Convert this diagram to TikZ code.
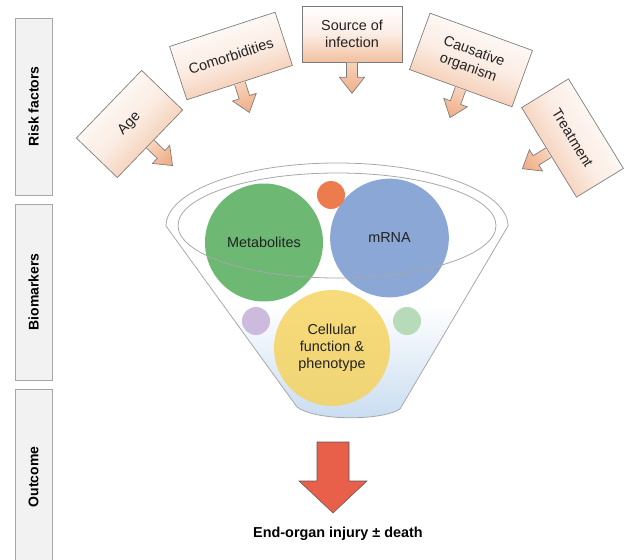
\documentclass[tikz,border=0pt]{standalone}
\usepackage{fontspec}
\setmainfont{Liberation Sans}
\definecolor{peachA}{HTML}{FFFFFF}
\definecolor{peachM}{HTML}{FBEDE4}
\definecolor{peachB}{HTML}{F2C0A0}
\definecolor{arrA}{HTML}{F7D2BA}
\definecolor{arrB}{HTML}{F0AF88}
\definecolor{boxline}{HTML}{7A7A7A}
\definecolor{bandfill}{HTML}{F2F2F2}
\definecolor{bandline}{HTML}{A6A6A6}
\definecolor{txt}{HTML}{222222}
\definecolor{cgreen}{HTML}{6DB873}
\definecolor{cblue}{HTML}{8BA7D5}
\definecolor{corange}{HTML}{EC7B4E}
\definecolor{cyellow}{HTML}{F6D35F}
\definecolor{cpurple}{HTML}{CDBBDD}
\definecolor{clgreen}{HTML}{B7DBB9}
\definecolor{funnelblue}{HTML}{C6DBF0}
\definecolor{funnelline}{HTML}{A8A8A8}
\definecolor{redarrow}{HTML}{E8604A}
\newcommand{\peacharrow}[2]{%
  \begin{scope}[shift={(#1)}, rotate=#2]
    \path[callarrow, shading angle=#2] (-5.5,0.4) -- (-5.5,15) -- (-12.5,15) -- (0,31) -- (12.5,15) -- (5.5,15) -- (5.5,0.4);
  \end{scope}}
\begin{document}
\begin{tikzpicture}[x=0.75pt, y=-0.75pt, font=\fontsize{10.8}{12.8}\selectfont,
  band/.style={draw=bandline, fill=bandfill, line width=0.6pt, inner sep=0pt, text=black,
    font=\fontsize{10.5}{12}\selectfont\bfseries},
  callout/.style={draw=boxline, line width=0.5pt, top color=peachA, bottom color=peachB,
    middle color=peachM, inner sep=0pt, align=center, text=txt},
  callarrow/.style={draw=boxline, line width=0.5pt, top color=arrA, bottom color=arrB},
  bubble/.style={circle, inner sep=0pt, align=center, text=txt},
  fline/.style={draw=funnelline, line width=0.6pt}]
\useasboundingbox (0,0) rectangle (625,560);

% side bands
\node[band, rotate=90, minimum width=132.75pt, minimum height=27.75pt] (rf) at (33.5,106.5) {Risk factors};
\node[band, rotate=90, minimum width=132pt, minimum height=27.75pt] (bm) at (33.5,292) {Biomarkers};
\node[band, rotate=90, minimum width=132pt, minimum height=27.75pt] (oc) at (33.5,477) {Outcome};

% risk factor callouts
\node[callout, minimum width=70.5pt, minimum height=42.75pt, rotate=46, shading angle=46] (age) at (129.5,124) {Age};
\node[callout, minimum width=83.25pt, minimum height=42pt, rotate=18, shading angle=18] (com) at (231,56) {Comorbidities};
\node[callout, minimum width=75pt, minimum height=42pt] (src) at (352,34) {Source of\\infection};
\node[callout, minimum width=81.75pt, minimum height=45pt, rotate=-20, shading angle=-20] (cau) at (471,60) {Causative\\organism};
\node[callout, minimum width=78.75pt, minimum height=41.25pt, rotate=-58.5, shading angle=-58.5] (trt) at (572.5,138) {Treatment};

\peacharrow{age.south}{46}
\peacharrow{com.south}{18}
\peacharrow{src.south}{0}
\peacharrow{cau.south}{-20}
\peacharrow{trt.south}{-58.5}

% funnel blue gradient
\begin{scope}
  \clip (166,226) arc[start angle=180, end angle=360, x radius=171, y radius=63]
    -- (400,409) .. controls (382,421) and (315,421) .. (297,407) -- cycle;
  \shade[top color=white, bottom color=funnelblue] (150,305) rectangle (520,425);
\end{scope}

% biomarker bubbles
\node[bubble, fill=cgreen, minimum size=88.5pt] (met) at (264,242.5) {Metabolites};
\node[bubble, fill=cblue, minimum size=89pt] (mrna) at (389.5,238) {mRNA};
\node[bubble, fill=corange, minimum size=21pt] (orng) at (331,195) {};
\node[bubble, fill=cyellow, fill opacity=0.84, text opacity=1, minimum size=87pt] (cell) at (332,348) {Cellular\\function \&\\phenotype};
\node[bubble, fill=cpurple, minimum size=21pt] (purp) at (256,321) {};
\node[bubble, fill=clgreen, minimum size=21pt] (lgrn) at (407,321) {};

% funnel outline
\path[fline] (166,226) arc[start angle=180, end angle=360, x radius=171, y radius=63]
    -- (400,409) .. controls (382,421) and (315,421) .. (297,407) -- cycle;
\path[fline] (337,225.5) ellipse [x radius=159, y radius=52.5];

% outcome arrow
\path[fill=redarrow, draw=gray!70!black, line width=0.4pt]
  (317,442) -- (349,442) -- (349,481) -- (367,481) -- (333,513) -- (299,481) -- (317,481) -- cycle;
\node[font=\fontsize{10.8}{12}\selectfont\bfseries, text=black] (out) at (338,534) {End-organ injury ± death};
\end{tikzpicture}
\end{document}
